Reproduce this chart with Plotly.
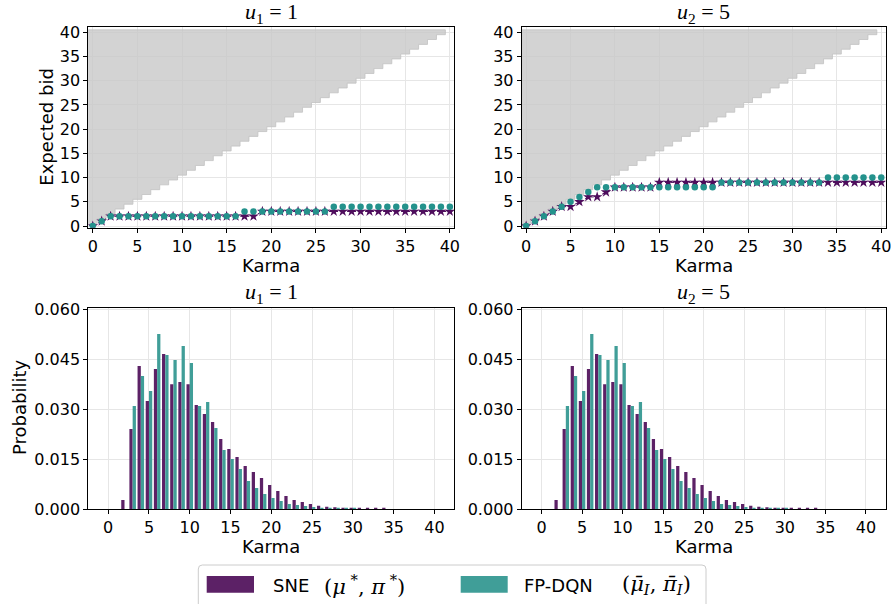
import plotly.graph_objects as go

# ---------------- data ----------------
karma = list(range(41))
bid_sne_u1 = [0, 1] + [2] * 17 + [3] * 22
bid_dqn_u1 = [0, 1] + [2] * 15 + [3] * 10 + [4] * 14
bid_sne_u5 = [0, 1, 2, 3, 4, 4, 5, 6, 6, 7] + [8] * 5 + [9] * 26
bid_dqn_u5 = [0, 1, 2, 3, 4, 5, 6, 7, 8, 8] + [8] * 12 + [9] * 12 + [10] * 7

prob_sne = [0, 0, 0.0027, 0.024, 0.0429, 0.0324, 0.042, 0.0465, 0.0374, 0.0381,
            0.0374, 0.0312, 0.0285, 0.0261, 0.021, 0.018, 0.0156, 0.0129, 0.0111, 0.0093,
            0.0072, 0.0054, 0.0039, 0.0027, 0.0021, 0.0015, 0.001, 0.0007, 0.0005, 0.0004,
            0.0003, 0.0002, 0.0002, 0.0001, 0.0001, 0, 0, 0, 0, 0, 0]
prob_dqn = [0, 0, 0, 0.0309, 0.0399, 0.0354, 0.0525, 0.0462, 0.0447, 0.0489,
            0.0438, 0.0309, 0.0321, 0.0243, 0.0177, 0.015, 0.012, 0.0084, 0.0063, 0.0045,
            0.0033, 0.0024, 0.0015, 0.0012, 0.0009, 0.0006, 0.0004, 0.0003, 0.0002, 0.0001,
            0.0001, 0, 0, 0, 0, 0, 0, 0, 0, 0, 0]

bid_ticks = [0, 5, 10, 15, 20, 25, 30, 35, 40]
prob_ticks = [0, 0.015, 0.03, 0.045, 0.06]
karma_ticks = [0, 5, 10, 15, 20, 25, 30, 35, 40]
max_bid = 40

titles = ["<i>u</i><sub>1</sub> = 1", "<i>u</i><sub>2</sub> = 5"]
legend_labels = ["SNE", "FP-DQN"]
legend_math = ["(<i>μ</i><sup> *</sup>, <i>π</i><sup> *</sup>)",
               "(<i>μ̄</i><sub><i>I</i></sub>, <i>π̄</i><sub><i>I</i></sub>)"]

# ---------------- style ----------------
C_BAR_SNE = "#5c2166"
C_BAR_DQN = "#409e98"
C_STAR = "#4e0d5c"
C_DOT = "#24928c"
FONT = "DejaVu Sans"
SERIF = "Liberation Serif"
MATH = "DejaVu Serif"

fig = go.Figure()

# infeasible-bid shading (bid > karma), cells of unit size
def infeasible_polygon():
    xs, ys = [], []
    for k in karma[:-1]:
        xs += [k - 0.5, k + 0.5]
        ys += [k + 0.5, k + 0.5]
    xs += [karma[-2] + 0.5, -0.5, -0.5]
    ys += [max_bid + 0.5, max_bid + 0.5, 0.5]
    return xs, ys

px_, py_ = infeasible_polygon()
for ax in ["", "2"]:
    fig.add_trace(go.Scatter(x=px_, y=py_, fill="toself", fillcolor="rgba(200,200,200,0.8)",
                             line=dict(color="#c2c2c2", width=0.8), mode="lines",
                             hoverinfo="skip", showlegend=False,
                             xaxis="x" + ax, yaxis="y" + ax))

for ax, sne, dqn in [("", bid_sne_u1, bid_dqn_u1), ("2", bid_sne_u5, bid_dqn_u5)]:
    fig.add_trace(go.Scatter(x=karma, y=sne, mode="lines+markers",
                             line=dict(color=C_STAR, width=1, dash="dot"),
                             marker=dict(symbol="star", size=8, color=C_STAR),
                             showlegend=False, xaxis="x" + ax, yaxis="y" + ax))
    fig.add_trace(go.Scatter(x=karma, y=dqn, mode="markers",
                             marker=dict(symbol="circle", size=6.5, color=C_DOT),
                             showlegend=False, xaxis="x" + ax, yaxis="y" + ax))

for ax in ["3", "4"]:
    fig.add_trace(go.Bar(x=karma, y=prob_sne, width=0.4, offset=-0.4,
                         marker=dict(color=C_BAR_SNE, line=dict(width=0)),
                         showlegend=False, xaxis="x" + ax, yaxis="y" + ax))
    fig.add_trace(go.Bar(x=karma, y=prob_dqn, width=0.4, offset=0.0,
                         marker=dict(color=C_BAR_DQN, line=dict(width=0)),
                         showlegend=False, xaxis="x" + ax, yaxis="y" + ax))

W, H = 893, 604
def px(x):
    return x / W
def py(y):
    return 1 - y / H

XD_L = [px(88.3), px(454.3)]
XD_R = [px(521.7), px(885.7)]
YD_T = [py(227.7), py(26.7)]
YD_B = [py(509), py(307.7)]

common = dict(showline=True, linecolor="black", linewidth=1, mirror=True,
              ticks="outside", ticklen=4, tickwidth=1, tickcolor="black",
              showgrid=True, gridcolor="#e6e6e6", gridwidth=1, zeroline=False,
              automargin=False,
              tickfont=dict(family=FONT, size=16, color="black"))

layout = dict(
    width=W, height=H, margin=dict(l=0, r=0, t=0, b=0, autoexpand=False),
    paper_bgcolor="white", plot_bgcolor="white", barmode="overlay",
    showlegend=False,
    xaxis=dict(domain=XD_L, anchor="y", range=[-0.5, 40.5], tickvals=karma_ticks, **common),
    yaxis=dict(domain=YD_T, anchor="x", range=[-0.35, 41.15], tickvals=bid_ticks, **common),
    xaxis2=dict(domain=XD_R, anchor="y2", range=[-0.5, 40.5], tickvals=karma_ticks, **common),
    yaxis2=dict(domain=YD_T, anchor="x2", range=[-0.35, 41.15], tickvals=bid_ticks, **common),
    xaxis3=dict(domain=XD_L, anchor="y3", range=[-2.44, 42.44], tickvals=karma_ticks, **common),
    yaxis3=dict(domain=YD_B, anchor="x3", range=[0, 0.0604], tickvals=prob_ticks,
                tickformat=".3f", **common),
    xaxis4=dict(domain=XD_R, anchor="y4", range=[-2.44, 42.44], tickvals=karma_ticks, **common),
    yaxis4=dict(domain=YD_B, anchor="x4", range=[0, 0.0604], tickvals=prob_ticks,
                tickformat=".3f", **common),
)
fig.update_layout(**layout)

ann = []
def text(x, y, s, size=18, family=FONT, angle=0, xanchor="center"):
    ann.append(dict(x=x, y=y, xref="paper", yref="paper", text=s, showarrow=False,
                    textangle=angle, xanchor=xanchor, yanchor="middle",
                    font=dict(family=family, size=size, color="black")))

# titles
text(px(271.3), py(13), titles[0], size=22, family=SERIF)
text(px(703.7), py(13), titles[1], size=22, family=SERIF)
text(px(271.3), py(293), titles[0], size=22, family=SERIF)
text(px(703.7), py(293), titles[1], size=22, family=SERIF)
# axis titles
text(px(271.3), py(265), "Karma")
text(px(703.7), py(265), "Karma")
text(px(271.3), py(546), "Karma")
text(px(703.7), py(546), "Karma")
text(px(45.7), py(127), "Expected bid", angle=-90)
text(px(19), py(408), "Probability", angle=-90)

# legend (custom)
lx0, lx1, ly0, ly1, r = px(198.3), px(706), py(620), py(565), 4
rx, ry = r / W, r / H
legend_path = (f"M {lx0+rx},{ly1} L {lx1-rx},{ly1} Q {lx1},{ly1} {lx1},{ly1-ry} "
               f"L {lx1},{ly0} L {lx0},{ly0} L {lx0},{ly1-ry} Q {lx0},{ly1} {lx0+rx},{ly1} Z")
shapes = [
    dict(type="path", xref="paper", yref="paper", path=legend_path,
         line=dict(color="#cccccc", width=1), fillcolor="white"),
    dict(type="rect", xref="paper", yref="paper", x0=px(206.7), x1=px(254),
         y0=py(592.7), y1=py(576), line=dict(width=0), fillcolor=C_BAR_SNE),
    dict(type="rect", xref="paper", yref="paper", x0=px(460.7), x1=px(507.7),
         y0=py(592.7), y1=py(576), line=dict(width=0), fillcolor=C_BAR_DQN),
]
text(px(271), py(585), legend_labels[0], size=18, xanchor="left")
text(px(322), py(585), legend_math[0], size=21, family=MATH, xanchor="left")
text(px(522), py(585), legend_labels[1], size=18, xanchor="left")
text(px(620), py(585), legend_math[1], size=21, family=MATH, xanchor="left")

fig.update_layout(annotations=ann, shapes=shapes)
fig.write_html("out.html", config={"displayModeBar": False},
               post_script="document.body.style.margin='0';document.body.style.overflow='hidden';")
